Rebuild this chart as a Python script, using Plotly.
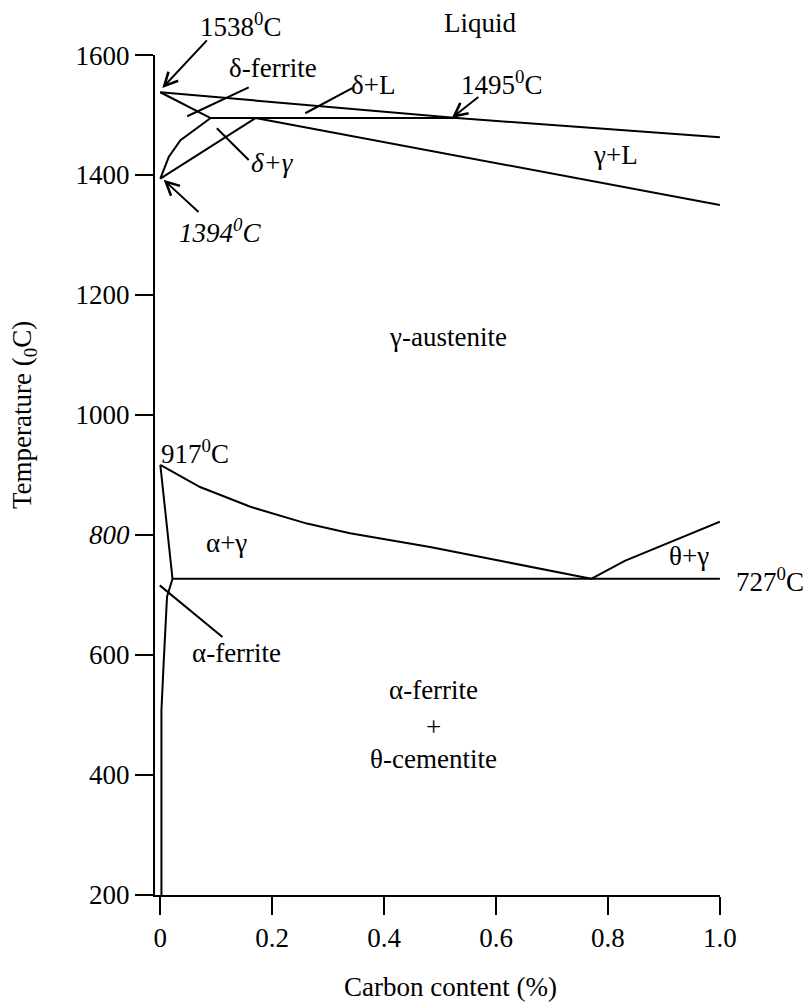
import plotly.graph_objects as go

# ---------------- data (carbon %, temperature degC) ----------------
liquidus_c = [0.0, 0.53, 1.0]
liquidus_t = [1538, 1495, 1463]

delta_solidus_c = [0.0, 0.09]
delta_solidus_t = [1538, 1495]

peritectic_c = [0.09, 0.53]
peritectic_t = [1495, 1495]

gamma_solidus_c = [0.17, 1.0]
gamma_solidus_t = [1495, 1350]

delta_boundary_c = [0.0, 0.015, 0.036, 0.065, 0.09]
delta_boundary_t = [1394, 1430, 1458, 1478, 1495]

gamma_delta_c = [0.0, 0.17]
gamma_delta_t = [1394, 1495]

a3_left_c = [0.0, 0.0218]
a3_left_t = [917, 727]

a3_c = [0.0, 0.071, 0.161, 0.262, 0.339, 0.482, 0.607, 0.714, 0.77]
a3_t = [917, 880, 847, 819, 803, 780, 757, 738, 727]

eutectoid_c = [0.0218, 1.0]
eutectoid_t = [727, 727]

acm_c = [0.77, 0.83, 1.0]
acm_t = [727, 757, 822]

alpha_solvus_c = [0.0218, 0.012, 0.006, 0.002, 0.002]
alpha_solvus_t = [727, 697, 587, 508, 200]

x_tick_vals = [0, 0.2, 0.4, 0.6, 0.8, 1.0]
x_tick_text = ["0", "0.2", "0.4", "0.6", "0.8", "1.0"]
y_tick_vals = [200, 400, 600, 800, 1000, 1200, 1400, 1600]
y_tick_text = ["200", "400", "600", "<i>800</i>", "1000", "1200", "1400", "1600"]

x_title = "Carbon content (%)"
y_title = "Temperature (<sub>0</sub>C)"

# region / point labels: (text, carbon, temperature)
labels = [
    ("1538<sup>0</sup>C", 0.143, 1650),
    ("Liquid", 0.571, 1653),
    ("δ-ferrite", 0.202, 1578),
    ("δ+L", 0.38, 1550),
    ("1495<sup>0</sup>C", 0.609, 1553),
    ("<i>δ+γ</i>", 0.2, 1420),
    ("<i>1394<sup>0</sup>C</i>", 0.107, 1307),
    ("γ+L", 0.814, 1433),
    ("γ-austenite", 0.514, 1130),
    ("917<sup>0</sup>C", 0.062, 938),
    ("α+γ", 0.118, 787),
    ("θ+γ", 0.945, 765),
    ("727<sup>0</sup>C", 1.089, 725),
    ("α-ferrite", 0.137, 603),
    ("α-ferrite", 0.489, 542),
    ("+", 0.489, 480),
    ("θ-cementite", 0.489, 426),
]

# arrows: (tail C, tail T, head C, head T)
arrows = [
    (0.0857, 1627, 0.0036, 1545),
    (0.071, 1336, 0.006, 1392),
    (0.571, 1532, 0.521, 1495),
]

# plain pointer lines: (C0, T0, C1, T1)
pointers = [
    (0.158, 1546, 0.048, 1498),
    (0.101, 1478, 0.158, 1425),
    (0.259, 1503, 0.343, 1545),
    (-0.001, 716, 0.111, 630),
]

FONT = "Liberation Serif, Times New Roman, serif"
FS = 27
XMIN, XMAX = -0.0095, 1.0002
YMIN, YMAX = 199.9, 1600.1
W, H = 810, 1006
ML, MR, MT, MB = 155, 90, 55, 111

fig = go.Figure()
curves = [
    ("liquidus", liquidus_c, liquidus_t),
    ("delta solidus", delta_solidus_c, delta_solidus_t),
    ("peritectic", peritectic_c, peritectic_t),
    ("gamma solidus", gamma_solidus_c, gamma_solidus_t),
    ("delta boundary", delta_boundary_c, delta_boundary_t),
    ("gamma/delta", gamma_delta_c, gamma_delta_t),
    ("A3 left", a3_left_c, a3_left_t),
    ("A3", a3_c, a3_t),
    ("eutectoid", eutectoid_c, eutectoid_t),
    ("Acm", acm_c, acm_t),
    ("alpha solvus", alpha_solvus_c, alpha_solvus_t),
]
for name, cx, ty in curves:
    fig.add_trace(go.Scatter(x=cx, y=ty, mode="lines", name=name,
                             line=dict(color="black", width=2),
                             showlegend=False, hoverinfo="skip"))

def to_paper(c, t):
    return (c - XMIN) / (XMAX - XMIN), (t - YMIN) / (YMAX - YMIN)

def px_to_paper(px, py):
    return (px - ML) / (W - ML - MR), (H - MB - py) / (H - MT - MB)

anns = []
for text, c, t in labels:
    px, py = to_paper(c, t)
    anns.append(dict(text=text, x=px, y=py, xref="paper", yref="paper",
                     showarrow=False, xanchor="center", yanchor="middle",
                     font=dict(family=FONT, size=FS, color="black")))
for c0, t0, c1, t1 in arrows:
    anns.append(dict(text="", x=c1, y=t1, ax=c0, ay=t0, xref="x", yref="y",
                     axref="x", ayref="y", showarrow=True, arrowhead=5,
                     arrowsize=1.3, arrowwidth=2, arrowcolor="black"))

# axis titles placed as annotations
tx, ty_ = px_to_paper(450, 987)
anns.append(dict(text=x_title, x=tx, y=ty_, xref="paper", yref="paper", showarrow=False,
                 xanchor="center", yanchor="middle", font=dict(family=FONT, size=FS, color="black")))
tx, ty_ = px_to_paper(24, 415)
anns.append(dict(text=y_title, x=tx, y=ty_, xref="paper", yref="paper", showarrow=False,
                 textangle=-90, xanchor="center", yanchor="middle",
                 font=dict(family=FONT, size=FS, color="black")))

shapes = []
for c0, t0, c1, t1 in pointers:
    shapes.append(dict(type="line", x0=c0, y0=t0, x1=c1, y1=t1, xref="x", yref="y",
                       line=dict(color="black", width=2)))

fig.update_layout(
    width=W, height=H,
    margin=dict(l=ML, r=MR, t=MT, b=MB),
    paper_bgcolor="white", plot_bgcolor="white",
    font=dict(family=FONT, size=FS, color="black"),
    annotations=anns, shapes=shapes,
    xaxis=dict(range=[XMIN, XMAX], showline=True, linecolor="black", linewidth=2,
               ticks="outside", ticklen=18, tickwidth=2, tickcolor="black",
               tickvals=x_tick_vals, ticktext=x_tick_text, showgrid=False, zeroline=False,
               tickfont=dict(family=FONT, size=FS, color="black")),
    yaxis=dict(range=[YMIN, YMAX], showline=True, linecolor="black", linewidth=2,
               ticks="outside", ticklen=18, tickwidth=2, tickcolor="black",
               tickvals=y_tick_vals, ticktext=y_tick_text, showgrid=False, zeroline=False,
               tickfont=dict(family=FONT, size=FS, color="black")),
)

fig.write_html("out.html")
